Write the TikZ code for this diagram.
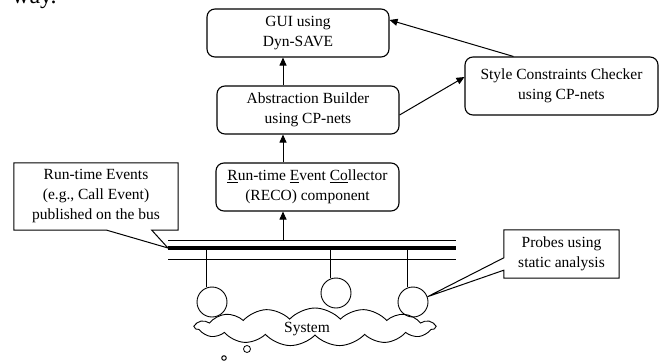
\documentclass[tikz,border=0pt]{standalone}
\usepackage{fontspec}
\setmainfont{Liberation Serif}
\usetikzlibrary{arrows.meta,shapes.symbols,calc}
\begin{document}
\begin{tikzpicture}[x=1pt,y=-1pt,
  txt/.style={font=\fontsize{15.5}{20}\selectfont, align=center, inner sep=0pt},
  rbox/.style={txt, draw, line width=1.1pt, rounded corners=8pt},
  cbox/.style={txt},
  arr/.style={line width=1pt, -{Triangle[length=8pt,width=7pt]}},
  thin/.style={line width=0.8pt},
  probe/.style={circle, draw, line width=0.9pt, minimum size=30pt, inner sep=0pt}]
\useasboundingbox (0,0) rectangle (662,362);
\clip (0,0) rectangle (662,362);
% cropped text at top-left
\node[anchor=base west, inner sep=0pt, font=\fontsize{24}{24}\selectfont] (way) at (12,3) {way.};
% boxes
\node[rbox, minimum width=182pt, minimum height=48pt] (gui) at (298,33) {GUI using\\Dyn-SAVE};
\node[rbox, minimum width=182pt, minimum height=48pt] (abs) at (308,110) {Abstraction Builder\\using CP-nets};
\node[rbox, minimum width=183pt, minimum height=48pt] (reco) at (307.5,187) {\underline{R}un-time \underline{E}vent \underline{Co}llector\\(RECO) component};
\node[rbox, minimum width=193pt, minimum height=58pt] (style) at (561.5,86) {Style Constraints Checker\\using CP-nets};
% vertical arrows
\coordinate (ax) at (283,0);
\draw[arr] (ax |- abs.north) -- (ax |- gui.south);
\draw[arr] (ax |- reco.north) -- (ax |- abs.south);
% style arrows
\draw[arr] ($(style.north west)+(49,0)$) -- ($(gui.east)+(0,-13)$);
\draw[arr] ($(abs.east)+(0,5)$) -- ($(style.west)+(0,-9)$);
% bus
\coordinate (busL) at (168,248);
\coordinate (busR) at (456,248);
\draw[line width=4pt] (busL) -- (busR);
\draw[thin] ($(busL)+(0,-8)$) -- ($(busR)+(0,-8)$);
\draw[thin] ($(busL)+(0,11)$) -- ($(busR)+(0,11)$);
\draw[arr] (ax |- 0,240) -- (ax |- reco.south);
% probes
\node[probe] (p1) at (212,302) {};
\node[probe] (p2) at (336,293) {};
\node[probe] (p3) at (413,302) {};
\foreach \p in {p1,p2,p3}
  \draw[thin] (\p.110 |- busL) -- (\p.110);
% cloud
\node[cloud, draw, line width=0.9pt, cloud puffs=15, cloud puff arc=95, aspect=6.5,
      minimum width=240pt, minimum height=38pt, inner sep=0pt] (sys) at (315,327) {};
\node[txt] (systxt) at (307,329) {System};
\node[circle, draw, line width=0.8pt, minimum size=7pt, inner sep=0pt] (b1) at (247,349) {};
\node[circle, draw, line width=1pt, minimum size=4.5pt, inner sep=0pt] (b2) at (224,358) {};
% callout: run-time events
\node[cbox, minimum width=164pt, minimum height=67pt] (ev) at (96,196.5)
  {Run-time Events\\(e.g., Call Event)\\published on the bus};
\draw[line width=1pt, line join=miter] (ev.north west) -- (ev.north east) -- (ev.south east)
  -- ($(ev.south west)+(138,0)$) -- (busL) -- ($(ev.south west)+(93,0)$) -- (ev.south west) -- cycle;
% callout: probes
\node[cbox, minimum width=115pt, minimum height=48pt] (pr) at (561.5,254)
  {Probes using\\static analysis};
\draw[line width=1pt, line join=miter] (pr.north west) -- (pr.north east) -- (pr.south east)
  -- (pr.south west) -- ($(pr.south west)+(0,-8)$) -- (p3.20) -- ($(pr.north west)+(0,28)$) -- cycle;
\end{tikzpicture}
\end{document}
